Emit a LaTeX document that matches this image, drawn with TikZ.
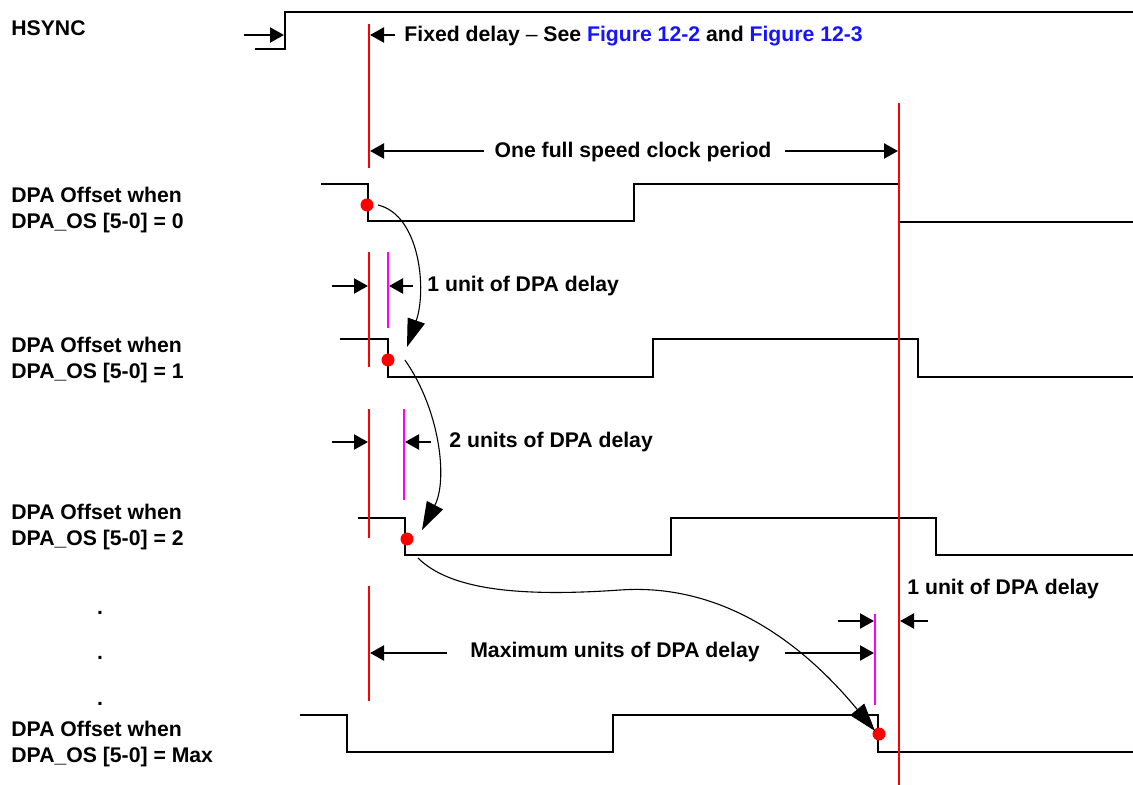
\documentclass[tikz,border=0pt]{standalone}
\usepackage{fontspec}
\setmainfont{Liberation Sans}
\usetikzlibrary{arrows.meta}
\definecolor{linkblue}{RGB}{20,20,255}
\definecolor{magline}{RGB}{255,0,255}
\begin{document}
\begin{tikzpicture}[x=0.5pt,y=-0.5pt,
  lbl/.style={font=\fontsize{10.6}{13}\selectfont\bfseries, inner sep=0pt, anchor=base west},
  wave/.style={line width=1.3pt, line join=miter},
  redln/.style={red, line width=1pt},
  magln/.style={magline, line width=1pt},
  dim/.style={line width=1.1pt, -{Triangle[length=7pt,width=7.5pt]}},
  flow/.style={line width=0.55pt, -{Triangle[length=14pt,width=9pt]}},
  rdot/.style={circle, fill=red, inner sep=0pt, minimum size=6.5pt},
]
\path[use as bounding box] (0,0) rectangle (1133,785);

% ---- labels
\node[lbl] (hs) at (11,36) {HSYNC};
\node[lbl] (l0) at (11,203) {\begin{tabular}[t]{@{}l@{}}DPA Offset when\\DPA\_OS [5-0] = 0\end{tabular}};
\node[lbl] (l1) at (11,353) {\begin{tabular}[t]{@{}l@{}}DPA Offset when\\DPA\_OS [5-0] = 1\end{tabular}};
\node[lbl] (l2) at (11,519) {\begin{tabular}[t]{@{}l@{}}DPA Offset when\\DPA\_OS [5-0] = 2\end{tabular}};
\node[lbl] (lm) at (11,736) {\begin{tabular}[t]{@{}l@{}}DPA Offset when\\DPA\_OS [5-0] = Max\end{tabular}};
\node[lbl,anchor=base] (dt1) at (100,614) {.};
\node[lbl,anchor=base] (dt2) at (100,659) {.};
\node[lbl,anchor=base] (dt3) at (100,705) {.};

% ---- waveforms
\draw[wave] (255,49) -- (285,49) -- (285,12) -- (1133,12);
\draw[wave] (321,184) -- (368,184) -- (368,221) -- (634,221) -- (634,184) -- (899,184) -- (899,222) -- (1133,222);
\draw[wave] (340,339) -- (388,339) -- (388,377) -- (653,377) -- (653,339) -- (918,339) -- (918,377) -- (1133,377);
\draw[wave] (358,518) -- (405,518) -- (405,555) -- (671,555) -- (671,518) -- (936,518) -- (936,555) -- (1133,555);
\draw[wave] (300,715) -- (347,715) -- (347,752) -- (613,752) -- (613,715) -- (878,715) -- (878,752) -- (1133,752);

% ---- reference lines
\coordinate (r1t) at (369,24);  \coordinate (r1b) at (369,168);
\coordinate (r2t) at (369,252); \coordinate (r2b) at (369,367);
\coordinate (r3t) at (369,409); \coordinate (r3b) at (369,538);
\coordinate (r4t) at (369,586); \coordinate (r4b) at (369,701);
\coordinate (rrt) at (899,103); \coordinate (rrb) at (899,785);
\coordinate (m1t) at (388,252); \coordinate (m1b) at (388,328);
\coordinate (m2t) at (404,409); \coordinate (m2b) at (404,500);
\coordinate (m3t) at (875,614); \coordinate (m3b) at (875,705);
\draw[redln] (r1t) -- (r1b);
\draw[redln] (r2t) -- (r2b);
\draw[redln] (r3t) -- (r3b);
\draw[redln] (r4t) -- (r4b);
\draw[redln] (rrt) -- (rrb);
\draw[magln] (m1t) -- (m1b);
\draw[magln] (m2t) -- (m2b);
\draw[magln] (m3t) -- (m3b);

% ---- dimension texts
\node[lbl] (fd) at (404,42) {Fixed delay {\mdseries --} See \textcolor{linkblue}{Figure 12-2} and \textcolor{linkblue}{Figure 12-3}};
\node[lbl,anchor=base] (ofs) at (633,158) {One full speed clock period};
\node[lbl] (u1) at (427,292) {1 unit of DPA delay};
\node[lbl] (u2) at (449,447) {2 units of DPA delay};
\node[lbl] (u3) at (907,594) {1 unit of DPA delay};
\node[lbl,anchor=base] (mx) at (615,657) {Maximum units of DPA delay};

% ---- dimension arrows
\coordinate (a0) at (244,35); \coordinate (e0) at (284,35);
\draw[dim] (a0) -- (e0);
\coordinate (a1) at (395,35); \coordinate (e1) at (370,35);
\draw[dim] (a1) -- (e1);
\coordinate (a2) at (484,151); \coordinate (e2) at (370,151);
\draw[dim] (a2) -- (e2);
\coordinate (a3) at (785,151); \coordinate (e3) at (898,151);
\draw[dim] (a3) -- (e3);
\coordinate (a4) at (332,286); \coordinate (e4) at (368,286);
\draw[dim] (a4) -- (e4);
\coordinate (a5) at (413,286); \coordinate (e5) at (389,286);
\draw[dim] (a5) -- (e5);
\coordinate (a6) at (332,442); \coordinate (e6) at (368,442);
\draw[dim] (a6) -- (e6);
\coordinate (a7) at (431,442); \coordinate (e7) at (405,442);
\draw[dim] (a7) -- (e7);
\coordinate (a8) at (447,653); \coordinate (e8) at (370,653);
\draw[dim] (a8) -- (e8);
\coordinate (a9) at (785,653); \coordinate (e9) at (874,653);
\draw[dim] (a9) -- (e9);
\coordinate (a10) at (838,621); \coordinate (e10) at (874,621);
\draw[dim] (a10) -- (e10);
\coordinate (a11) at (928,621); \coordinate (e11) at (900,621);
\draw[dim] (a11) -- (e11);

% ---- red dots
\node[rdot] (d0) at (367,205) {};
\node[rdot] (d1) at (388,360) {};
\node[rdot] (d2) at (407,539) {};
\node[rdot] (dm) at (879,734) {};

% ---- flow arrows
\coordinate (t1) at (407,347);
\coordinate (t2) at (422,530);
\coordinate (t3) at (875,731);
\draw[flow] ([xshift=2pt]d0.east) .. controls (420,215) and (427,290) .. (t1);
\draw[flow] ([xshift=5pt]d1.east) .. controls (440,410) and (448,480) .. (t2);
\draw[flow] ([shift={(11,19)}]d2.center) .. controls (450,590) and (520,597) .. (620,590)
   .. controls (720,583) and (800,640) .. (t3);
\end{tikzpicture}
\end{document}
